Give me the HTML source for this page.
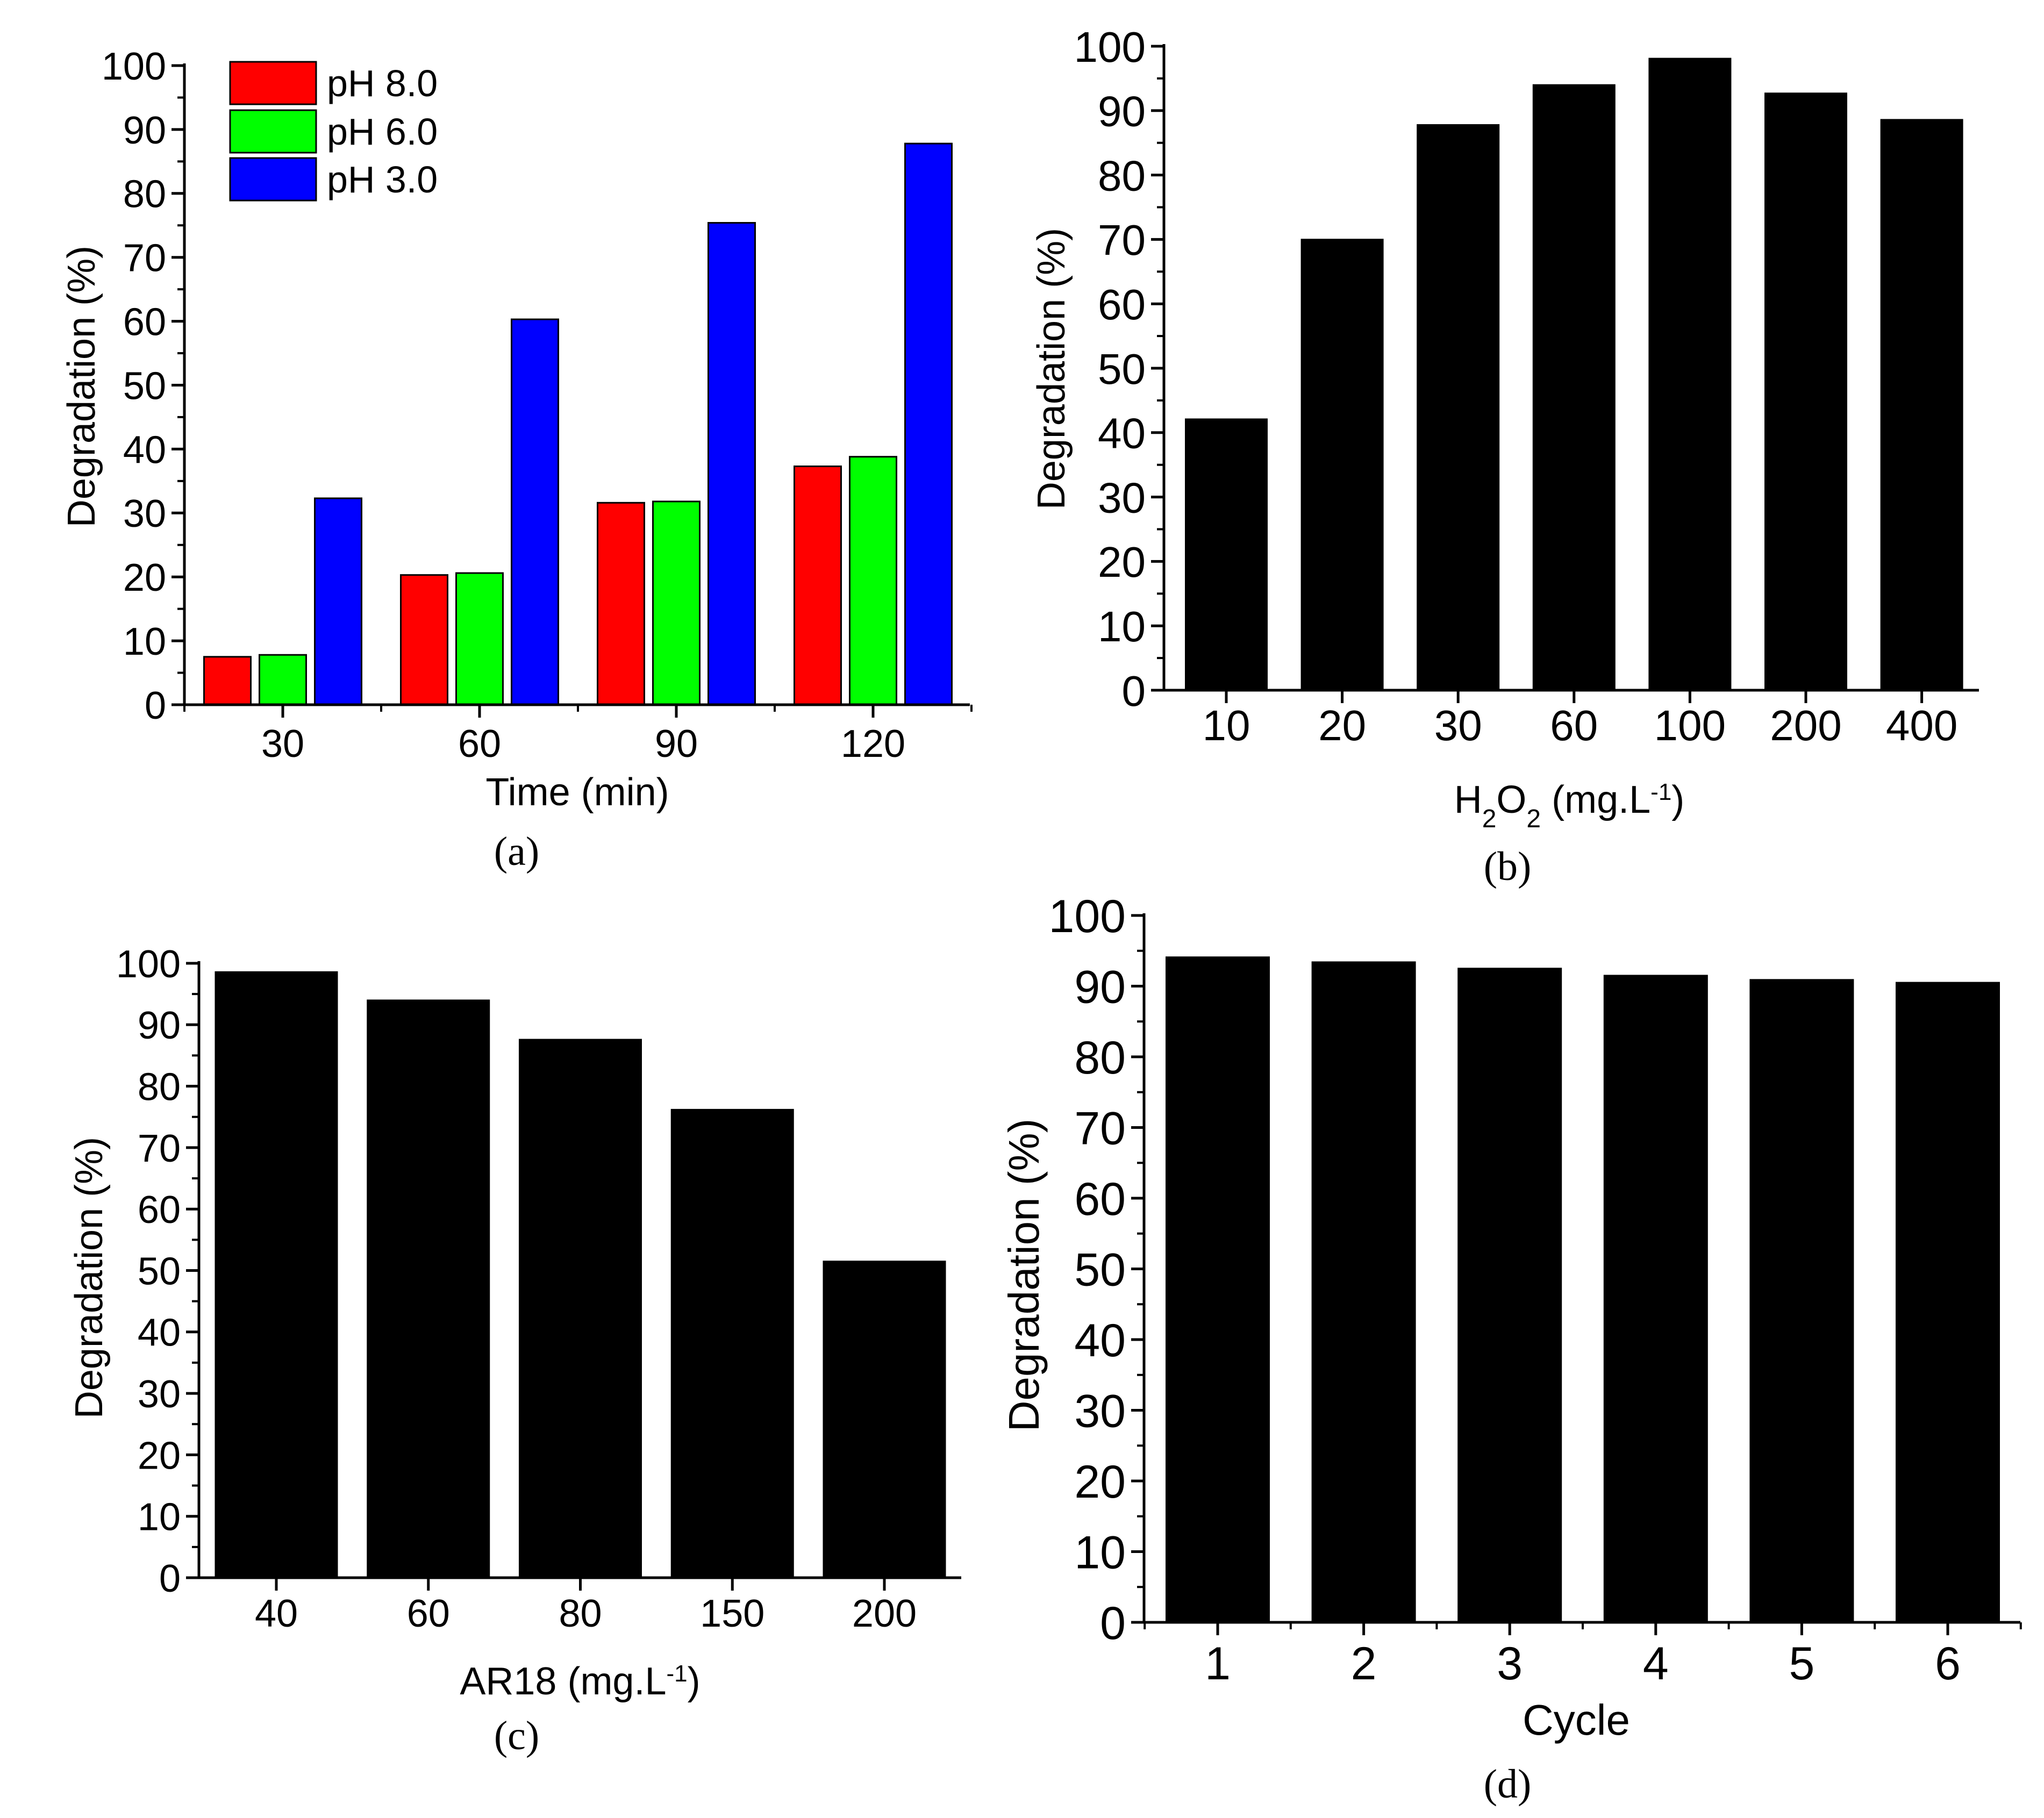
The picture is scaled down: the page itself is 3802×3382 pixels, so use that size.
<!DOCTYPE html>
<html><head><meta charset="utf-8"><style>
html,body{margin:0;padding:0;background:#fff;}
svg{display:block;}
text{font-family:"Liberation Sans",Arial,sans-serif;fill:#000;}
.serif{font-family:"Liberation Serif","Times New Roman",serif;}
</style></head><body>
<svg id="fig" width="3802" height="3382" viewBox="0 0 3802 3382" xmlns="http://www.w3.org/2000/svg"><g id="root" transform="translate(0,-8)"></g></svg>
<script>
// Panel (a)
const aCategories = ["30","60","90","120"];
const aSeriesNames = ["pH 8.0","pH 6.0","pH 3.0"];
const aPH8 = [7.5,20.3,31.6,37.3];
const aPH6 = [7.8,20.6,31.8,38.8];
const aPH3 = [32.3,60.3,75.4,87.8];
// Panel (b)
const bCategories = ["10","20","30","60","100","200","400"];
const bValues = [42.2,70.1,87.9,94.1,98.2,92.8,88.7];
// Panel (c)
const cCategories = ["40","60","80","150","200"];
const cValues = [98.7,94.1,87.7,76.3,51.6];
// Panel (d)
const dCategories = ["1","2","3","4","5","6"];
const dValues = [94.2,93.5,92.6,91.6,91.0,90.6];
const yTicks = [0,10,20,30,40,50,60,70,80,90,100];

const NS="http://www.w3.org/2000/svg";
const svg=document.getElementById('root');
function mk(tag,attrs,parent){const e=document.createElementNS(NS,tag);for(const k in attrs)e.setAttribute(k,attrs[k]);(parent||svg).appendChild(e);return e;}

function panel(cfg){
  const g=mk('g',{});
  
  
  const y=v=>cfg.y0-(cfg.y0-cfg.y100)*v/100;
  const n=cfg.cats.length;
  const x=i=>cfg.c0+i*cfg.step;
  cfg.series.forEach((s,si)=>{
    s.vals.forEach((v,i)=>{
      const cx=x(i)+s.off;
      const r=mk('rect',{x:cx-cfg.bw/2,y:y(v),width:cfg.bw,height:cfg.y0-y(v),fill:s.color,stroke:'#000','stroke-width':cfg.bstroke},g);
      
      
    });
  });
  const ya=mk('line',{x1:cfg.ax,y1:cfg.y0+2,x2:cfg.ax,y2:cfg.y100-4,stroke:'#000','stroke-width':5},g);
  
  
  const xa=mk('line',{x1:cfg.ax-24,y1:cfg.y0,x2:cfg.xr,y2:cfg.y0,stroke:'#000','stroke-width':5},g);
  
  
  yTicks.forEach(t=>{
    mk('line',{x1:cfg.ax-24,y1:y(t),x2:cfg.ax,y2:y(t),stroke:'#000','stroke-width':5},g);
    if(t<100) mk('line',{x1:cfg.ax-13,y1:y(t+5),x2:cfg.ax,y2:y(t+5),stroke:'#000','stroke-width':4},g);
    const tl=mk('text',{x:cfg.ax-34,y:y(t)+cfg.fs*0.36,'font-size':cfg.fs,'text-anchor':'end'},g);
    tl.textContent=t;
    
    
  });
  cfg.cats.forEach((c,i)=>{
    mk('line',{x1:x(i),y1:cfg.y0,x2:x(i),y2:cfg.y0+24,stroke:'#000','stroke-width':5},g);
    if(cfg.minorX){
      mk('line',{x1:x(i)-cfg.step/2,y1:cfg.y0,x2:x(i)-cfg.step/2,y2:cfg.y0+13,stroke:'#000','stroke-width':4},g);
      if(i==n-1) mk('line',{x1:x(i)+cfg.step/2,y1:cfg.y0,x2:x(i)+cfg.step/2,y2:cfg.y0+13,stroke:'#000','stroke-width':4},g);
    }
    const tl=mk('text',{x:x(i),y:cfg.tickBase,'font-size':cfg.fs,'text-anchor':'middle'},g);
    tl.textContent=c;
    
    
  });
  const yt=mk('text',{x:0,y:0,'font-size':cfg.tfs,'text-anchor':'middle',transform:`translate(${cfg.ytx},${cfg.yty}) rotate(-90)`},g);
  yt.textContent='Degradation (%)';
  
  
  const xt=mk('text',{x:cfg.xtx,y:cfg.xty,'font-size':cfg.tfs,'text-anchor':'middle'},g);
  xt.innerHTML=cfg.xtitle;
  
  
  const pl=mk('text',{x:cfg.plx,y:cfg.ply,'font-size':76,'text-anchor':'middle','class':'serif'},g);
  pl.textContent=cfg.plabel;
  
  
  return g;
}

const sup='<tspan baseline-shift="super" font-size="44">-1</tspan>';
panel({id:'panel-a',cats:aCategories,c0:526,step:366,bw:87,bstroke:3,
  series:[{key:'ph8',vals:aPH8,color:'#ff0000',off:-103},{key:'ph6',vals:aPH6,color:'#00ff00',off:0},{key:'ph3',vals:aPH3,color:'#0000ff',off:103}],
  ax:343,xr:1804,y0:1319,y100:130,fs:72,tfs:72,tickBase:1416,minorX:true,
  ytx:176,yty:727,xtx:1074,xty:1506,xtitle:'Time (min)',plx:961,ply:1617,plabel:'(a)'});
panel({id:'panel-b',cats:bCategories,c0:2281,step:215.6,bw:154,bstroke:0,
  series:[{key:'h2o2',vals:bValues,color:'#000',off:0}],
  ax:2165,xr:3681,y0:1292,y100:94,fs:80,tfs:72,tickBase:1385,minorX:false,
  ytx:1980,yty:694,xtx:2919,xty:1520,xtitle:'H<tspan baseline-shift="sub" font-size="48">2</tspan>O<tspan baseline-shift="sub" font-size="48">2</tspan> (mg.L'+sup+')',plx:2804,ply:1645,plabel:'(b)'});
panel({id:'panel-c',cats:cCategories,c0:514,step:282.75,bw:229,bstroke:0,
  series:[{key:'ar18',vals:cValues,color:'#000',off:0}],
  ax:370,xr:1788,y0:2943,y100:1800,fs:72,tfs:72,tickBase:3034,minorX:false,
  ytx:190,yty:2385,xtx:1079,xty:3160,xtitle:'AR18 (mg.L'+sup+')',plx:961,ply:3262,plabel:'(c)'});
panel({id:'panel-d',cats:dCategories,c0:2265,step:271.6,bw:194,bstroke:0,
  series:[{key:'cycle',vals:dValues,color:'#000',off:0}],
  ax:2128,xr:3758,y0:3026,y100:1711,fs:86,tfs:80,tickBase:3132,minorX:true,
  ytx:1932,yty:2380,xtx:2932,xty:3235,xtitle:'Cycle',plx:2804,ply:3352,plabel:'(d)'});

const leg=mk('g',{});


const legColors=['#ff0000','#00ff00','#0000ff'];
const legY=[123,213,302];
aSeriesNames.forEach((nm,i)=>{
  const r=mk('rect',{x:428,y:legY[i],width:160,height:79,fill:legColors[i],stroke:'#000','stroke-width':3},leg);
  
  
  const t=mk('text',{x:608,y:legY[i]+64,'font-size':70},leg);
  t.textContent=nm;
  
  
});
</script>
</body></html>
